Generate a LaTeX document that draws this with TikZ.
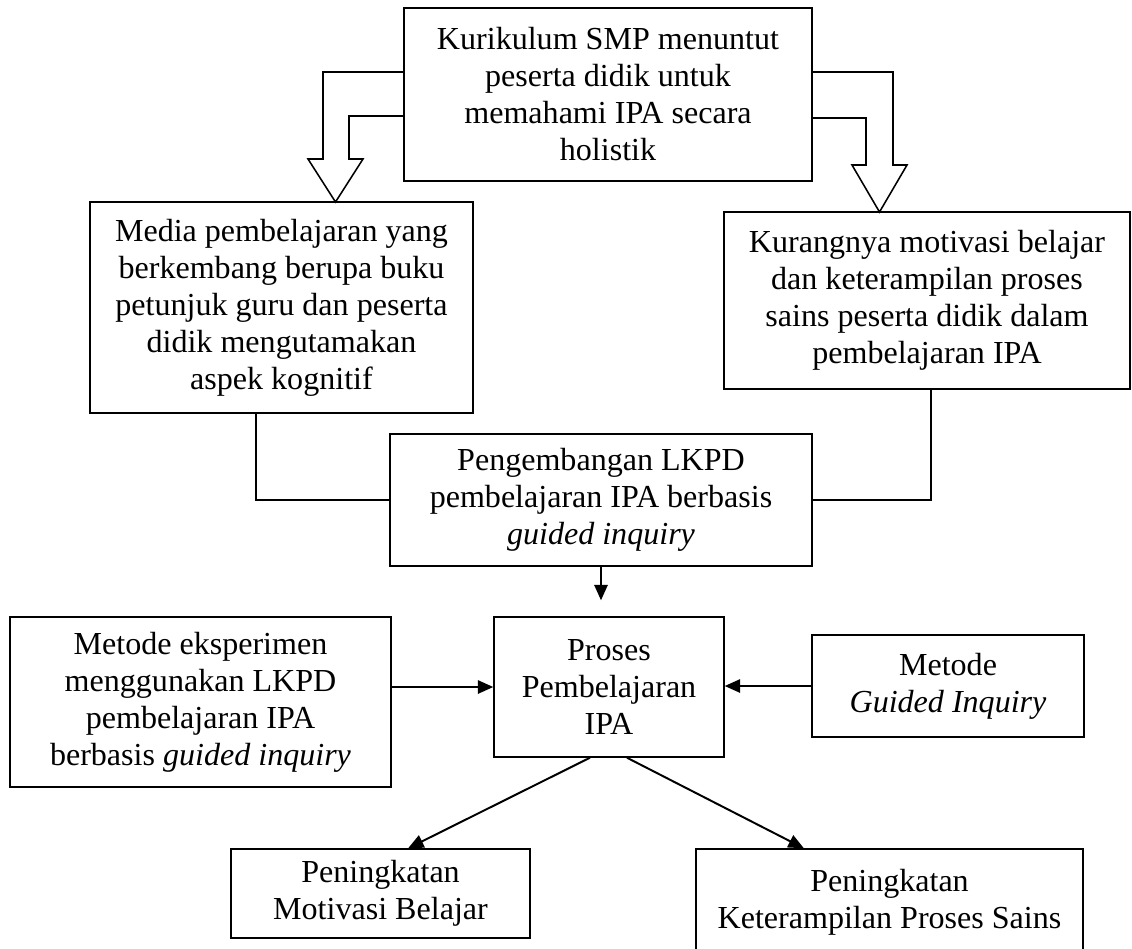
\documentclass[tikz,border=0pt]{standalone}
\usepackage{fontspec}
\setmainfont{Liberation Serif}
\usetikzlibrary{arrows.meta}

\begin{document}
\begin{tikzpicture}[x=0.025cm, y=-0.025cm,
  box/.style={draw, line width=1pt, align=center, inner sep=0pt,
    font=\fontsize{22.8}{26.3}\selectfont},
  link/.style={line width=1.1pt},
  hollow/.style={line width=1.1pt, line join=miter},
  arr/.style={line width=1.4pt, -{Triangle[length=11pt, width=9.5pt]}}]

  \clip (0,0) rectangle (1132,948);

  \node[box, minimum width=10.2cm, minimum height=4.325cm] (kur) at (608,94.5)
    {Kurikulum SMP menuntut\\peserta didik untuk\\memahami IPA secara\\holistik};
  \node[box, minimum width=9.575cm, minimum height=5.275cm] (media) at (281.5,307.5)
    {Media pembelajaran yang\\berkembang berupa buku\\petunjuk guru dan peserta\\didik mengutamakan\\aspek kognitif};
  \node[box, minimum width=10.15cm, minimum height=4.425cm] (kurang) at (927,300.5)
    {Kurangnya motivasi belajar\\dan keterampilan proses\\sains peserta didik dalam\\pembelajaran IPA};
  \node[box, minimum width=10.55cm, minimum height=3.3cm] (peng) at (601,500)
    {Pengembangan LKPD\\pembelajaran IPA berbasis\\\textit{guided inquiry}};
  \node[box, minimum width=5.75cm, minimum height=3.5cm] (proses) at (609,687)
    {Proses\\Pembelajaran\\IPA};
  \node[box, minimum width=9.525cm, minimum height=4.25cm] (eksp) at (200.5,702)
    {Metode eksperimen\\menggunakan LKPD\\pembelajaran IPA\\berbasis \textit{guided inquiry}};
  \node[box, minimum width=6.8cm, minimum height=2.55cm] (guided) at (948,686)
    {Metode\\\textit{Guided Inquiry}};
  \node[box, minimum width=7.475cm, minimum height=2.225cm] (motiv) at (380.5,893.5)
    {Peningkatan\\Motivasi Belajar};
  \node[box, minimum width=9.675cm, minimum height=3.4cm] (ketr) at (889.5,917)
    {Peningkatan\\Keterampilan Proses Sains\\\mbox{}};

  % hollow arrows from the top box
  \draw[hollow] (404,72) -- (323,72) -- (323,159) -- (308,159) -- (335.5,202)
    -- (363,159) -- (349,159) -- (349,116) -- (404,116);
  \draw[hollow] (812,72) -- (893,72) -- (893,165) -- (907,165) -- (879.5,212)
    -- (852,165) -- (866,165) -- (866,118) -- (812,118);

  \draw[link] ([xshift=-0.64cm]media.south) |- (peng.west);
  \draw[link] ([xshift=0.1cm]kurang.south) |- (peng.east);

  \draw[arr, shorten >=0.4cm] (peng.south) -- (peng.south |- proses.north);
  \draw[arr] (eksp.east |- proses.west) -- (proses.west);
  \draw[arr] (guided.west) -- (guided.west -| proses.east);
  \draw[arr] ([xshift=-0.475cm]proses.south) -- ([xshift=0.69cm]motiv.north);
  \draw[arr] ([xshift=0.45cm]proses.south) -- ([xshift=-2.14cm]ketr.north);

\end{tikzpicture}
\end{document}
